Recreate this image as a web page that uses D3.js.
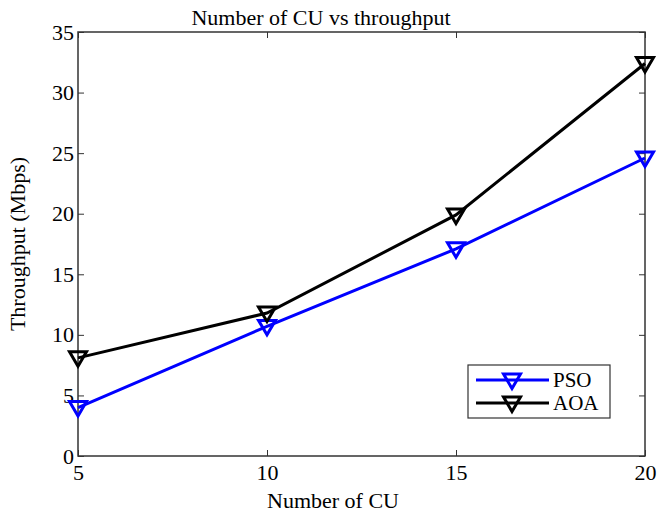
<!DOCTYPE html>
<html>
<head>
<meta charset="utf-8">
<script src="https://cdn.jsdelivr.net/npm/d3@7"></script>
<style>
body { margin: 0; background: #fff; }
text { font-family: "Liberation Serif", "Times New Roman", serif; }
</style>
</head>
<body>
<svg id="chart" width="669" height="519"></svg>
<script>
var cuCount = [5, 10, 15, 20]
var psoValues = [4.0, 10.7, 17.1, 24.6]
var aoaValues = [8.1, 11.8, 19.9, 32.4]
var xTicks = [5, 10, 15, 20]
var yTicks = [0, 5, 10, 15, 20, 25, 30, 35]
var seriesNames = ['PSO', 'AOA']
var seriesColors = ['#0000ff', '#000000']

var svg = d3.select('#chart')
var margin = {'top': 32, 'right': 24, 'bottom': 63, 'left': 78}
var width = 669 - margin.left - margin.right
var height = 519 - margin.top - margin.bottom

var g = svg.append('g')
	.attr('transform', 'translate(' + margin.left + ',' + margin.top + ')')

var x = d3.scaleLinear().domain([5, 20]).range([0, width])
var y = d3.scaleLinear().domain([0, 35]).range([height, 0])

// frame
g.append('rect')
	.attr('width', width).attr('height', height)
	.attr('fill', 'none').attr('stroke', '#333').attr('stroke-width', 1.5)

// ticks inward, labels outside
var xAxis = g.append('g').attr('transform', 'translate(0,' + height + ')')
	.call(d3.axisBottom(x).tickValues(xTicks).tickSize(-6).tickPadding(8).tickFormat(d3.format('d')))
var yAxis = g.append('g')
	.call(d3.axisLeft(y).tickValues(yTicks).tickSize(-6).tickPadding(4).tickFormat(d3.format('d')))
var topTicks = g.append('g')
	.call(d3.axisTop(x).tickValues(xTicks).tickSize(-6).tickFormat(''))
var rightTicks = g.append('g').attr('transform', 'translate(' + width + ',0)')
	.call(d3.axisRight(y).tickValues(yTicks).tickSize(-6).tickFormat(''))

;[xAxis, yAxis, topTicks, rightTicks].forEach(function(a) {
	a.select('.domain').remove()
	a.selectAll('line').attr('stroke', '#333')
	a.selectAll('text').attr('font-size', 22).attr('fill', '#000')
		.style('font-family', '"Liberation Serif", serif')
})

var line = d3.line()
	.x(function(d) { return x(d[0]) })
	.y(function(d) { return y(d[1]) })

var tri = 'M-8.5,-6 L8.5,-6 L0,8.5 Z'

var allSeries = [psoValues, aoaValues]
allSeries.forEach(function(vals, i) {
	var pts = cuCount.map(function(c, j) { return [c, vals[j]] })
	g.append('path').datum(pts)
		.attr('d', line)
		.attr('fill', 'none')
		.attr('stroke', seriesColors[i])
		.attr('stroke-width', 3)
	g.selectAll('.mk' + i).data(pts).enter()
		.append('path')
		.attr('d', tri)
		.attr('transform', function(d) { return 'translate(' + x(d[0]) + ',' + y(d[1]) + ')' })
		.attr('fill', 'none')
		.attr('stroke', seriesColors[i])
		.attr('stroke-width', 3)
		.attr('stroke-linejoin', 'miter')
})

// title and labels
svg.append('text').attr('x', 321).attr('y', 25)
	.attr('text-anchor', 'middle').attr('font-size', 22).text('Number of CU vs throughput')
svg.append('text').attr('x', 333).attr('y', 508)
	.attr('text-anchor', 'middle').attr('font-size', 22).text('Number of CU')
svg.append('text')
	.attr('transform', 'translate(25,' + (margin.top + height / 2) + ') rotate(-90)')
	.attr('text-anchor', 'middle').attr('font-size', 22).text('Throughput (Mbps)')

// legend
var lg = svg.append('g').attr('transform', 'translate(468,365)')
lg.append('rect').attr('width', 142).attr('height', 53)
	.attr('fill', '#fff').attr('stroke', '#333').attr('stroke-width', 1.2)
seriesNames.forEach(function(name, i) {
	var yy = 15 + i * 23
	lg.append('line').attr('x1', 8).attr('x2', 81).attr('y1', yy).attr('y2', yy)
		.attr('stroke', seriesColors[i]).attr('stroke-width', 3)
	lg.append('path').attr('d', tri)
		.attr('transform', 'translate(44,' + yy + ')')
		.attr('fill', 'none').attr('stroke', seriesColors[i]).attr('stroke-width', 3)
	lg.append('text').attr('x', 85).attr('y', yy + 7)
		.attr('font-size', 21).text(name)
})
</script>
</body>
</html>
